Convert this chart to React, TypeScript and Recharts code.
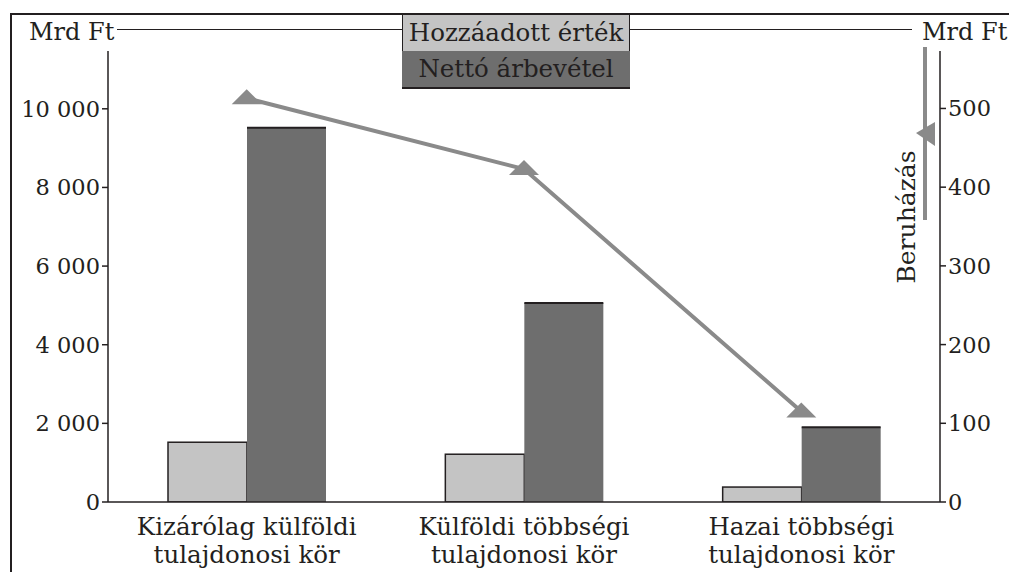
import React from 'react';
import { ComposedChart, Bar, Line, XAxis, YAxis } from 'recharts';

const categories = ['Kizárólag külföldi\ntulajdonosi kör', 'Külföldi többségi\ntulajdonosi kör', 'Hazai többségi\ntulajdonosi kör'];
const hozzaadott = [1520, 1215, 380];
const netto = [9520, 5060, 1900];
const beruhazas = [513, 423, 115];
const leftTicks = [0, 2000, 4000, 6000, 8000, 10000];
const rightTicks = [0, 100, 200, 300, 400, 500];

const data = categories.map((name, i) => ({
  name,
  hozzaadott: hozzaadott[i],
  netto: netto[i],
  beruhazas: beruhazas[i],
}));

const FONT = '"DejaVu Serif", "Liberation Serif", serif';
const INK = '#231f20';
const LINE_GREY = '#8a8a8a';

const fmt = (v: number) => (v >= 1000 ? `${Math.floor(v / 1000)} ${String(v % 1000).padStart(3, '0')}` : String(v));

const CategoryTick = (props: any) => {
  const { x, y, payload } = props;
  const lines = String(payload.value).split('\n');
  return (
    <text x={x} y={y} textAnchor="middle" fill={INK} fontFamily={FONT} fontSize={24.5}>
      {lines.map((l, i) => (
        <tspan key={i} x={x} dy={i === 0 ? 25 : 28}>{l}</tspan>
      ))}
    </text>
  );
};

const LightBar = (props: any) => {
  const { x, y, width, height } = props;
  return <rect x={x} y={y} width={width} height={height} fill="#c4c4c4" stroke={INK} strokeWidth={1.5} />;
};

const DarkBar = (props: any) => {
  const { x, y, width, height } = props;
  return (
    <g>
      <rect x={x} y={y} width={width} height={height} fill="#6e6e6e" />
      <line x1={x} x2={x + width} y1={y} y2={y} stroke={INK} strokeWidth={2} />
    </g>
  );
};

const TriangleDot = (props: any) => {
  const { cx, cy } = props;
  if (cx == null || cy == null) return null;
  return <polygon points={`${cx},${cy - 9} ${cx - 15},${cy + 6} ${cx + 15},${cy + 6}`} fill={LINE_GREY} />;
};

export default function App() {
  return (
    <div style={{ position: 'absolute', left: 0, top: 0, width: 1009, height: 572, background: '#fff', overflow: 'hidden', fontFamily: FONT, color: INK }}>
      {/* outer frame */}
      <div style={{ position: 'absolute', left: 10, top: 13, width: 1100, height: 700, borderLeft: `2px solid ${INK}`, borderTop: `2px solid ${INK}` }} />
      {/* top rule */}
      <div style={{ position: 'absolute', left: 117, top: 29, width: 795, height: 0, borderTop: `1.5px solid ${INK}` }} />
      <div style={{ position: 'absolute', left: 29, top: 17, fontSize: 24, lineHeight: '30px', background: '#fff', whiteSpace: 'nowrap' }}>Mrd Ft</div>
      <div style={{ position: 'absolute', left: 922, top: 17, fontSize: 24, lineHeight: '30px', whiteSpace: 'nowrap', background: '#fff' }}>Mrd Ft</div>

      <div style={{ position: 'absolute', left: 0, top: 0 }}>
        <ComposedChart width={1009} height={572} data={data} margin={{ top: 51, right: 0, bottom: 0, left: 0 }} barGap={0} barSize={79}>
          <XAxis
            dataKey="name"
            height={70}
            tick={<CategoryTick />}
            tickLine={false}
            axisLine={{ stroke: INK, strokeWidth: 1.5 }}
            interval={0}
          />
          <YAxis
            yAxisId="left"
            width={108}
            domain={[0, 11470]}
            ticks={leftTicks}
            tickFormatter={fmt}
            allowDataOverflow
            tickSize={6}
            tickLine={{ stroke: INK, strokeWidth: 1.5 }}
            axisLine={{ stroke: INK, strokeWidth: 1.5 }}
            tick={{ fill: INK, fontFamily: FONT, fontSize: 22.5 }}
          />
          <YAxis
            yAxisId="right"
            orientation="right"
            width={69}
            domain={[0, 573]}
            ticks={rightTicks}
            allowDataOverflow
            tickSize={6}
            tickLine={{ stroke: INK, strokeWidth: 1.5 }}
            axisLine={{ stroke: INK, strokeWidth: 1.5 }}
            tick={{ fill: INK, fontFamily: FONT, fontSize: 22.5 }}
          />
          <Bar yAxisId="left" dataKey="hozzaadott" shape={<LightBar />} isAnimationActive={false} />
          <Bar yAxisId="left" dataKey="netto" shape={<DarkBar />} isAnimationActive={false} />
          <Line
            yAxisId="right"
            dataKey="beruhazas"
            type="linear"
            stroke={LINE_GREY}
            strokeWidth={4}
            dot={<TriangleDot />}
            activeDot={false}
            isAnimationActive={false}
          />
        </ComposedChart>
      </div>

      {/* legend boxes */}
      <div style={{ position: 'absolute', left: 402, top: 14, width: 226, height: 36, background: '#c4c4c4', border: `1.5px solid ${INK}`, fontSize: 24.5, lineHeight: '36px', textAlign: 'center', whiteSpace: 'nowrap' }}>Hozzáadott érték</div>
      <div style={{ position: 'absolute', left: 402, top: 51, width: 228, height: 36, background: '#6e6e6e', borderBottom: `2px solid ${INK}`, fontSize: 24.5, lineHeight: '36px', textAlign: 'center', whiteSpace: 'nowrap' }}>Nettó árbevétel</div>

      {/* Beruházás legend */}
      <svg style={{ position: 'absolute', left: 0, top: 0 }} width={1009} height={572}>
        <line x1={925} x2={925} y1={47} y2={220} stroke={LINE_GREY} strokeWidth={4} />
        <polygon points="916,133 935,122 935,146" fill={LINE_GREY} />
        <text x={915} y={217} transform="rotate(-90 915 217)" textAnchor="middle" fontFamily={FONT} fontSize={25} fill={INK}>Beruházás</text>
      </svg>
    </div>
  );
}
